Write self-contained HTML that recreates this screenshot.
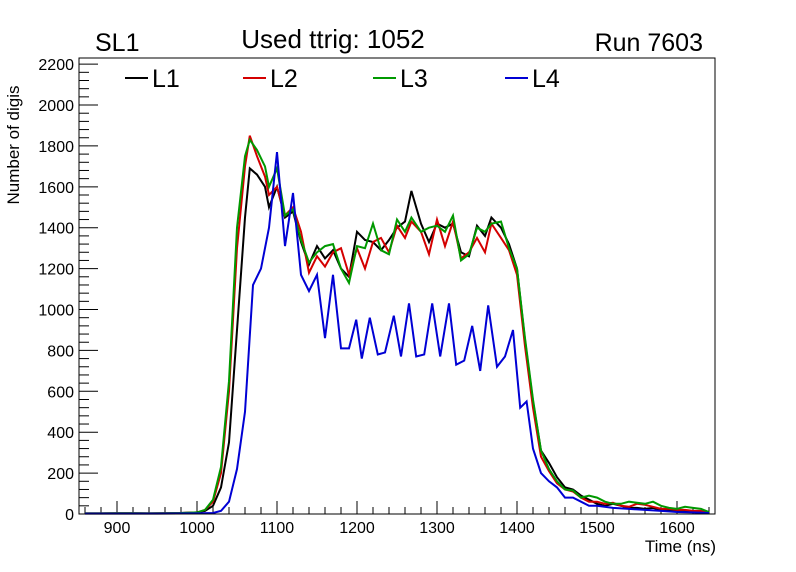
<!DOCTYPE html>
<html><head><meta charset="utf-8"><style>
body{margin:0;background:#fff;}
svg{display:block;font-family:"Liberation Sans",sans-serif;}
</style></head><body>
<svg id="c" width="796" height="572" xmlns="http://www.w3.org/2000/svg">
<rect width="796" height="572" fill="#fff"/>
<text x="95" y="51" font-size="25">SL1</text>
<text x="333" y="48" font-size="26" text-anchor="middle">Used ttrig: 1052</text>
<text x="703" y="51" font-size="25" text-anchor="end">Run 7603</text>
<text transform="translate(19,145) rotate(-90)" font-size="17" text-anchor="middle">Number of digis</text>
<text x="716" y="552" font-size="17" text-anchor="end">Time (ns)</text>
<g id="axes"></g>
<g id="series"></g>
<rect x="79" y="58" width="636" height="456" fill="none" stroke="#000" stroke-width="1"/>
<g id="legend"></g>
</svg>
<script>
const xTicks=[900,1000,1100,1200,1300,1400,1500,1600];
const yTicks=[0,200,400,600,800,1000,1200,1400,1600,1800,2000,2200];
const seriesNames=["L1","L2","L3","L4"];
const seriesColors=["#000000","#d40000","#009900","#0000d4"];
const t123=[860,880,900,920,940,960,980,1000,1010,1020,1030,1040,1050,1060,1066,1075,1085,1090,1100,1110,1120,1130,1140,1150,1160,1170,1180,1190,1200,1210,1220,1230,1240,1250,1260,1268,1280,1290,1300,1310,1320,1330,1340,1350,1360,1368,1380,1390,1400,1410,1420,1430,1440,1450,1460,1470,1480,1490,1500,1510,1520,1530,1540,1550,1560,1570,1580,1590,1600,1610,1620,1630,1640];
const vL1=[3,3,4,4,3,4,5,8,15,40,130,350,900,1450,1690,1660,1600,1500,1600,1450,1480,1330,1220,1310,1250,1290,1200,1160,1380,1340,1330,1290,1340,1400,1430,1580,1420,1330,1420,1400,1420,1280,1260,1410,1360,1450,1400,1320,1200,850,550,310,250,180,130,120,90,70,50,40,50,40,30,30,25,30,20,20,15,15,10,10,5];
const vL2=[3,3,4,4,3,4,5,8,20,60,200,600,1300,1700,1850,1750,1650,1560,1600,1460,1500,1380,1180,1260,1210,1280,1300,1170,1300,1200,1330,1350,1280,1410,1350,1430,1380,1270,1440,1310,1430,1250,1280,1350,1280,1420,1350,1290,1170,820,520,280,210,150,120,110,80,60,60,50,55,40,35,50,45,35,25,25,20,20,15,15,5];
const vL3=[3,3,4,4,3,4,5,8,20,70,230,650,1400,1750,1830,1780,1700,1600,1690,1460,1490,1340,1230,1280,1310,1320,1200,1130,1310,1300,1420,1290,1270,1440,1380,1450,1380,1400,1410,1380,1460,1240,1270,1400,1380,1420,1430,1300,1200,860,560,310,220,160,120,115,80,90,80,60,50,50,60,55,50,60,40,30,25,35,30,25,10];
const t4=[860,900,950,1000,1020,1030,1040,1050,1060,1070,1080,1090,1100,1110,1120,1130,1140,1150,1160,1170,1180,1190,1199,1206,1216,1226,1235,1246,1255,1265,1274,1284,1294,1304,1315,1324,1334,1344,1354,1364,1375,1385,1395,1404,1412,1420,1430,1440,1450,1460,1470,1480,1490,1500,1520,1540,1560,1580,1600,1620,1640];
const vL4=[2,2,2,3,5,15,60,220,500,1120,1200,1400,1770,1310,1570,1170,1090,1170,860,1170,810,810,950,760,960,780,790,970,770,1030,770,780,1030,770,1030,730,750,920,700,1020,720,770,900,520,550,320,200,160,130,80,80,60,40,40,30,25,20,15,10,8,5];
const X0=79,X1=715,Y0=514,Y1=58,XMIN=852.5,XMAX=1647.5,YMAX=2230;
const sx=t=>X0+(t-XMIN)/(XMAX-XMIN)*(X1-X0);
const sy=v=>Y0-v/YMAX*(Y0-Y1);
const NS="http://www.w3.org/2000/svg";
function mk(tag,attrs,parent){const e=document.createElementNS(NS,tag);for(const k in attrs)e.setAttribute(k,attrs[k]);parent.appendChild(e);return e;}
const axes=document.getElementById('axes');
for(let t=860;t<=1640;t+=20){
  const major=t%100===0;
  const l=mk('line',{x1:sx(t),x2:sx(t),y1:Y0,y2:Y0-(major?13:7),stroke:'#000','stroke-width':1},axes);
  
  
}
xTicks.forEach(t=>{
  const tx=mk('text',{x:sx(t),y:533,'font-size':16,'text-anchor':'middle'},axes);
  tx.textContent=t;
  
  
});
for(let v=0;v<=2200;v+=40){
  const major=v%200===0;
  const l=mk('line',{x1:X0,x2:X0+(major?19:10),y1:sy(v),y2:sy(v),stroke:'#000','stroke-width':1},axes);
  
  
}
yTicks.forEach(v=>{
  const tx=mk('text',{x:74,y:sy(v)+6,'font-size':16,'text-anchor':'end'},axes);
  tx.textContent=v;
  
  
});
const ser=document.getElementById('series');
const allT=[t123,t123,t123,t4], allV=[vL1,vL2,vL3,vL4];
allV.forEach((vals,i)=>{
  const ts=allT[i];
  const pts=vals.map((v,j)=>sx(ts[j]).toFixed(1)+','+sy(v).toFixed(1)).join(' ');
  const p=mk('polyline',{points:pts,fill:'none',stroke:seriesColors[i],'stroke-width':2,'stroke-linejoin':'miter'},ser);
  
  
});
const leg=document.getElementById('legend');
const legX=[125,243,373,505];
seriesNames.forEach((n,i)=>{
  const g=mk('g',{},leg);
  
  
  mk('line',{x1:legX[i],x2:legX[i]+23,y1:78,y2:78,stroke:seriesColors[i],'stroke-width':2},g);
  const tx=mk('text',{x:legX[i]+27,y:87,'font-size':25},g);
  tx.textContent=n;
});
</script>
</body></html>
